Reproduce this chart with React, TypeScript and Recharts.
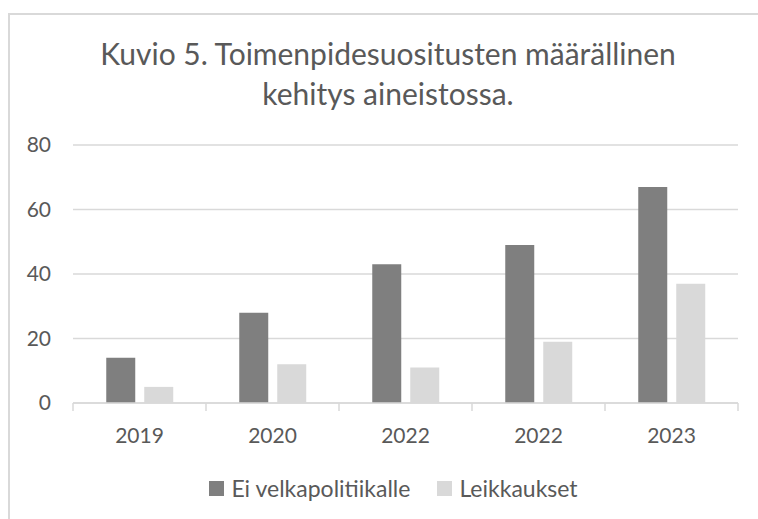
import { BarChart, Bar, XAxis, YAxis, CartesianGrid } from "recharts";

const years = ["2019", "2020", "2022", "2022", "2023"];
const eiVelkapolitiikalle = [14, 28, 43, 49, 67];
const leikkaukset = [5, 12, 11, 19, 37];
const yTicks = [0, 20, 40, 60, 80];

const data = years.map((y, i) => ({
  year: y,
  idx: i,
  ei: eiVelkapolitiikalle[i],
  leik: leikkaukset[i],
}));

const FONT = "Lato, 'Open Sans', sans-serif";
const TEXT = "#595959";
const LINE = "#d9d9d9";
const DARK = "#7f7f7f";
const LIGHT = "#d9d9d9";

const series = [
  { key: "ei", name: "Ei velkapolitiikalle", color: DARK },
  { key: "leik", name: "Leikkaukset", color: LIGHT },
];

const W = 758;
const H = 519;
const X_AXIS_H = 30;
const M = { top: 145, right: 20, bottom: 116 - X_AXIS_H, left: 0 };
const Y_AXIS_W = 73;
const BAND = (W - M.left - M.right - Y_AXIS_W) / years.length;

function YearTick({ x, y, payload, index }: any) {
  const half = BAND / 2;
  return (
    <g>
      <line x1={x - half} x2={x - half} y1={y - 8} y2={y} stroke={LINE} strokeWidth={1.5} />
      {index === years.length - 1 && (
        <line x1={x + half} x2={x + half} y1={y - 8} y2={y} stroke={LINE} strokeWidth={1.5} />
      )}
      <text x={x} y={y + 32} textAnchor="middle" fill={TEXT} fontSize={21} fontFamily={FONT}>
        {years[payload.value]}
      </text>
    </g>
  );
}

function ValueTick({ x, y, payload }: any) {
  return (
    <text x={x} y={y + 7} textAnchor="end" fill={TEXT} fontSize={21} fontFamily={FONT}>
      {payload.value}
    </text>
  );
}

export default function App() {
  return (
    <div style={{ position: "relative", width: W, height: H, background: "#fff", overflow: "hidden" }}>
      <style>{`html,body{margin:0;padding:0;overflow:hidden}`}</style>
      {/* chart frame: only left and top edges fall inside the crop */}
      <div style={{ position: "absolute", left: 8, top: 13, width: W - 8, height: 2, background: LINE }} />
      <div style={{ position: "absolute", left: 8, top: 13, width: 2, height: H - 13, background: LINE }} />
      <div
        style={{
          position: "absolute",
          left: 8,
          top: 33,
          width: 760,
          textAlign: "center",
          fontFamily: FONT,
          fontSize: 30,
          lineHeight: "40px",
          color: TEXT,
        }}
      >
        Kuvio 5. Toimenpidesuositusten määrällinen
        <br />
        kehitys aineistossa.
      </div>
      <div style={{ position: "absolute", left: 0, top: 0 }}>
        <BarChart width={W} height={H} data={data} margin={M} barCategoryGap="25%" barGap={9}>
          <CartesianGrid vertical={false} stroke={LINE} strokeWidth={1.5} />
          <XAxis
            dataKey="idx"
            height={X_AXIS_H}
            tick={<YearTick />}
            tickLine={false}
            axisLine={{ stroke: LINE, strokeWidth: 1.5 }}
            tickSize={8}
            tickMargin={0}
            interval={0}
          />
          <YAxis
            domain={[0, 80]}
            ticks={yTicks}
            width={Y_AXIS_W}
            axisLine={false}
            tickLine={false}
            tickSize={0}
            tickMargin={22}
            tick={<ValueTick />}
          />
          {series.map((s) => (
            <Bar key={s.key} dataKey={s.key} name={s.name} fill={s.color} isAnimationActive={false} />
          ))}
        </BarChart>
      </div>
      <div
        style={{
          position: "absolute",
          left: 0,
          top: 473,
          width: 787,
          display: "flex",
          justifyContent: "center",
          gap: 27,
          fontFamily: FONT,
          fontSize: 23,
          lineHeight: "30px",
          color: TEXT,
        }}
      >
        {series.map((s) => (
          <div key={s.key} style={{ display: "flex", alignItems: "center", gap: 7 }}>
            <span style={{ width: 15, height: 15, background: s.color, display: "inline-block" }} />
            <span>{s.name}</span>
          </div>
        ))}
      </div>
    </div>
  );
}
